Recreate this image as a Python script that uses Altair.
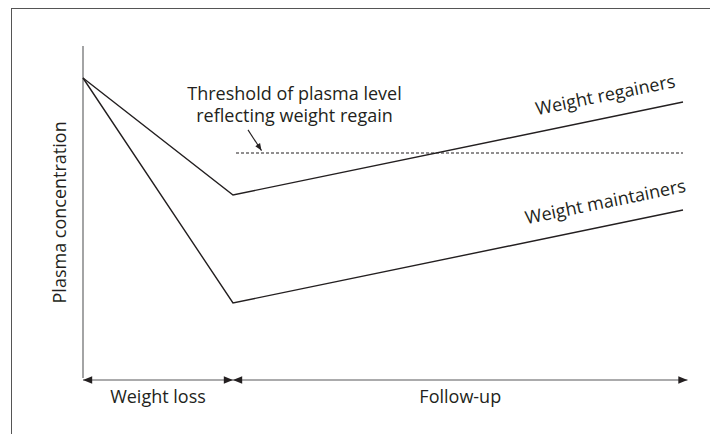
import altair as alt
import pandas as pd

# ---- schematic data (time in phase units, concentration in arbitrary units) ----
time = [0, 1, 4]
regainers = [100, 61, 92]
maintainers = [100, 25, 56]
series_names = ["Weight regainers", "Weight maintainers"]
label_t = [3.49, 3.49]
label_v = [92.3, 56.7]
label_angle = 348.5

threshold_level = 75
threshold_span = [1.02, 4.0]
annot_text = ["Threshold of plasma level\nreflecting weight regain"]
annot_pos = [1.41, 92.5]
arrow_from = [1.10, 82.7]
arrow_to = [1.19, 75.8]

y_axis_top = 110.7
x_axis_level = -0.67
phase_names = ["Weight loss", "Follow-up"]
phase_start = [0, 1]
phase_end = [1, 4.03]
phase_label_v = -8.33
y_title = ["Plasma concentration"]
y_title_pos = [-0.115, 55.2]

W, H = 702, 426
xs = alt.Scale(domain=[-0.5, 4.18], nice=False, zero=False)
ys = alt.Scale(domain=[-18.667, 123.333], nice=False, zero=False)
FONT = "Open Sans"
INK = "#231f20"
FS = 18


def X(f, **kw):
    return alt.X(f, type="quantitative", scale=xs, axis=None, **kw)


def Y(f, **kw):
    return alt.Y(f, type="quantitative", scale=ys, axis=None, **kw)


rows = []
for name, vals in zip(series_names, [regainers, maintainers]):
    for t, v in zip(time, vals):
        rows.append({"series": name, "t": t, "v": v})
lines_df = pd.DataFrame(rows)

lines = alt.Chart(lines_df).mark_line(color=INK, strokeWidth=1.4).encode(
    x=X("t"), y=Y("v"), detail="series:N"
)

labels = alt.Chart(pd.DataFrame({"t": label_t, "v": label_v, "s": series_names})).mark_text(
    font=FONT, fontSize=FS, color=INK, angle=label_angle, align="center", baseline="alphabetic"
).encode(x=X("t"), y=Y("v"), text="s:N")

thr = alt.Chart(pd.DataFrame({"t1": [threshold_span[0]], "t2": [threshold_span[1]], "v": [threshold_level]})).mark_rule(
    color=INK, strokeWidth=1.2, strokeDash=[3, 2]
).encode(x=X("t1"), x2="t2:Q", y=Y("v"))

annot = alt.Chart(pd.DataFrame({"t": [annot_pos[0]], "v": [annot_pos[1]], "s": annot_text})).mark_text(
    font=FONT, fontSize=FS, color=INK, align="center", baseline="alphabetic", lineBreak="\n", lineHeight=22
).encode(x=X("t"), y=Y("v"), text="s:N")

arrow_shaft = alt.Chart(pd.DataFrame({"t1": [arrow_from[0]], "v1": [arrow_from[1]], "t2": [arrow_to[0]], "v2": [arrow_to[1]]})).mark_rule(
    color=INK, strokeWidth=1.1
).encode(x=X("t1"), y=Y("v1"), x2="t2:Q", y2="v2:Q")

HEAD = "M1,0L-1,-0.8L-1,0.8Z"
arrow_head = alt.Chart(pd.DataFrame({"t": [arrow_to[0]], "v": [arrow_to[1]]})).mark_point(
    shape=HEAD, filled=True, color=INK, opacity=1, size=50, angle=57, xOffset=-1.9, yOffset=-3.0, strokeWidth=0
).encode(x=X("t"), y=Y("v"))

AX = "#58595b"
y_axis = alt.Chart(pd.DataFrame({"t": [0], "v1": [0], "v2": [y_axis_top]})).mark_rule(
    color=AX, strokeWidth=1.1
).encode(x=X("t"), y=Y("v1"), y2="v2:Q")

x_axis = alt.Chart(pd.DataFrame({"t1": [phase_start[0]], "t2": [phase_end[-1]], "v": [x_axis_level]})).mark_rule(
    color=AX, strokeWidth=1.1
).encode(x=X("t1"), x2="t2:Q", y=Y("v"))

heads_left = alt.Chart(pd.DataFrame({"t": phase_start, "v": [x_axis_level] * 2})).mark_point(
    shape=HEAD, filled=True, color=INK, opacity=1, size=84, angle=180, xOffset=4.6, strokeWidth=0
).encode(x=X("t"), y=Y("v"))
heads_right = alt.Chart(pd.DataFrame({"t": phase_end, "v": [x_axis_level] * 2})).mark_point(
    shape=HEAD, filled=True, color=INK, opacity=1, size=84, angle=0, xOffset=-4.6, strokeWidth=0
).encode(x=X("t"), y=Y("v"))

phase_df = pd.DataFrame({"name": phase_names, "t0": phase_start, "t1": phase_end, "v": [phase_label_v] * 2})
phase_labels = alt.Chart(phase_df).transform_calculate(mid="(datum.t0 + datum.t1) / 2").mark_text(
    font=FONT, fontSize=FS, color=INK, align="center", baseline="alphabetic"
).encode(x=X("mid"), y=Y("v"), text="name:N")

ytitle = alt.Chart(pd.DataFrame({"t": [y_title_pos[0]], "v": [y_title_pos[1]], "s": y_title})).mark_text(
    font=FONT, fontSize=FS, color=INK, angle=270, align="center", baseline="alphabetic"
).encode(x=X("t"), y=Y("v"), text="s:N")

dummy = pd.DataFrame({"a": [0]})
border_top = alt.Chart(dummy).mark_rule(color="#555555", strokeWidth=1).encode(
    x=alt.value(3), x2=alt.value(W), y=alt.value(0.5)
)
border_left = alt.Chart(dummy).mark_rule(color="#555555", strokeWidth=1).encode(
    x=alt.value(3.5), y=alt.value(0), y2=alt.value(H)
)

chart = alt.layer(
    border_top, border_left, y_axis, x_axis, heads_left, heads_right, thr, lines,
    arrow_shaft, arrow_head, annot, labels, phase_labels, ytitle
).properties(
    width=W, height=H, padding=0, autosize=alt.AutoSizeParams(type="none"), background="white"
).configure_view(stroke=None)

chart.save("out.html", embed_options={"renderer": "svg", "actions": False})
